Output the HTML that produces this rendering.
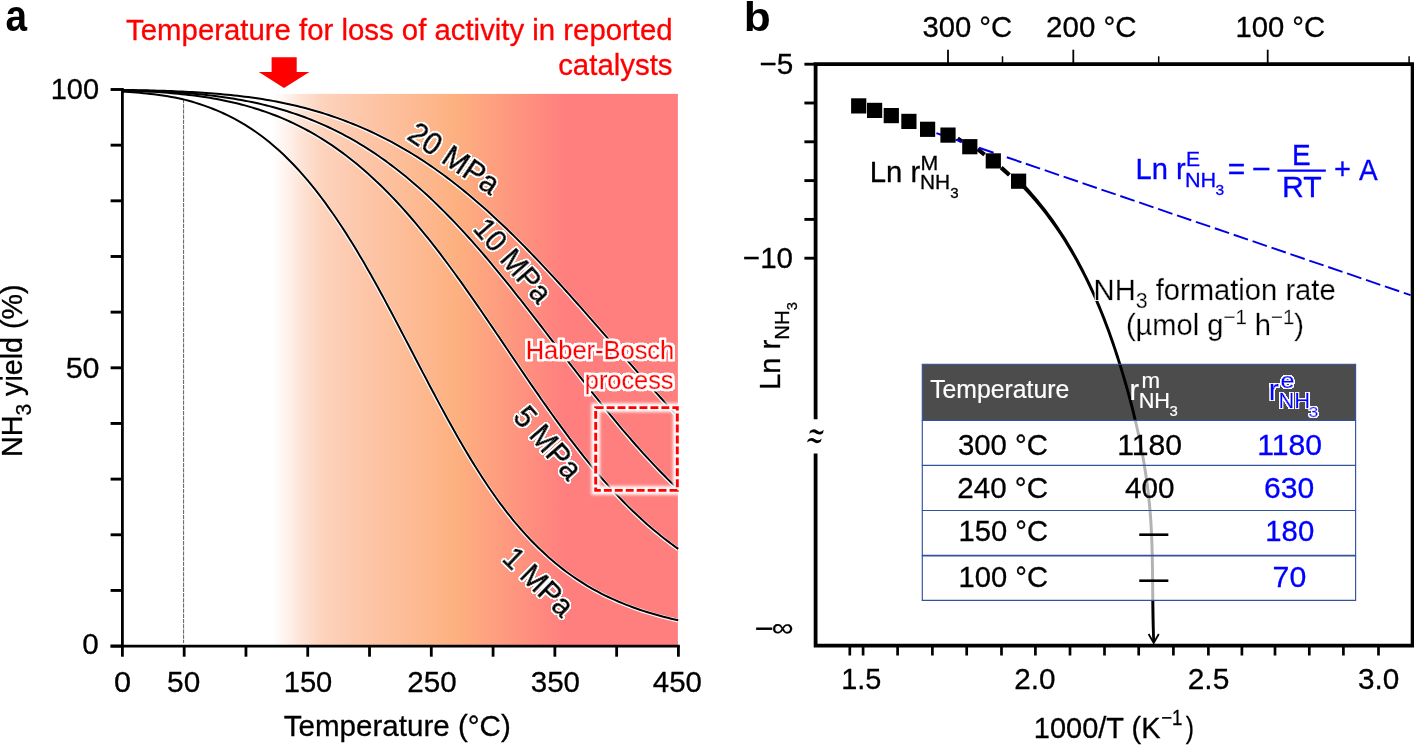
<!DOCTYPE html>
<html lang="en"><head><meta charset="utf-8"><title>NH3 yield and formation rate</title>
<style>
html,body{margin:0;padding:0;background:#fff;}
body{width:1414px;height:745px;overflow:hidden;}
svg{display:block;}
text{font-family:"Liberation Sans",sans-serif;fill:#000;}
</style></head><body>
<svg width="1414" height="745" viewBox="0 0 1414 745">
<defs>
<linearGradient id="g" gradientUnits="userSpaceOnUse" x1="272" x2="678" y1="0" y2="0">
<stop offset="0" stop-color="#fff"/>
<stop offset="0.03" stop-color="#fff5f0"/>
<stop offset="0.07" stop-color="#fee4d7"/>
<stop offset="0.12" stop-color="#fdd4bd"/>
<stop offset="0.20" stop-color="#fdc9ae"/>
<stop offset="0.455" stop-color="#fdb080"/>
<stop offset="0.725" stop-color="#ff7e7e"/>
<stop offset="1" stop-color="#ff7e7e"/>
</linearGradient>
<filter id="glow" x="-20%" y="-20%" width="140%" height="140%"><feGaussianBlur stdDeviation="1.8"/></filter>
<filter id="h40" x="-40%" y="-40%" width="180%" height="180%"><feMorphology in="SourceAlpha" operator="dilate" radius="1" result="d"/><feGaussianBlur in="d" stdDeviation="0.5" result="b"/><feComponentTransfer in="b" result="a"><feFuncA type="linear" slope="6.0" intercept="-0.3"/></feComponentTransfer><feFlood flood-color="#fff"/><feComposite in2="a" operator="in" result="hl"/><feMerge><feMergeNode in="hl"/><feMergeNode in="SourceGraphic"/></feMerge></filter>
<filter id="hb44" x="-40%" y="-40%" width="180%" height="180%"><feMorphology in="SourceAlpha" operator="dilate" radius="2" result="d"/><feGaussianBlur in="d" stdDeviation="0.6" result="b"/><feComponentTransfer in="b" result="a"><feFuncA type="linear" slope="3.0" intercept="-0.2"/></feComponentTransfer><feFlood flood-color="#fff"/><feComposite in2="a" operator="in" result="hl"/><feMerge><feMergeNode in="hl"/><feMergeNode in="SourceGraphic"/></feMerge></filter>
<filter id="h26" x="-40%" y="-40%" width="180%" height="180%"><feMorphology in="SourceAlpha" operator="dilate" radius="1" result="d"/><feGaussianBlur in="d" stdDeviation="0.4" result="b"/><feComponentTransfer in="b" result="a"><feFuncA type="linear" slope="4.0" intercept="-1.0"/></feComponentTransfer><feFlood flood-color="#fff"/><feComposite in2="a" operator="in" result="hl"/><feMerge><feMergeNode in="hl"/><feMergeNode in="SourceGraphic"/></feMerge></filter>
<filter id="h30" x="-40%" y="-40%" width="180%" height="180%"><feMorphology in="SourceAlpha" operator="dilate" radius="1" result="d"/><feGaussianBlur in="d" stdDeviation="0.4" result="b"/><feComponentTransfer in="b" result="a"><feFuncA type="linear" slope="4.0" intercept="-1.0"/></feComponentTransfer><feFlood flood-color="#fff"/><feComposite in2="a" operator="in" result="hl"/><feMerge><feMergeNode in="hl"/><feMergeNode in="SourceGraphic"/></feMerge></filter>

</defs>
<rect width="1414" height="745" fill="#fff"/>

<g id="panel-a">
<rect x="272" y="93.9" width="405.9" height="552" fill="url(#g)"/>
<line x1="183.6" y1="99" x2="183.6" y2="643" stroke="#333" stroke-width="0.8" stroke-dasharray="4.2 1"/>
<path d="M272.00,100.75 L274.55,101.21 L277.11,101.68 L279.66,102.17 L282.22,102.69 L284.77,103.23 L287.33,103.78 L289.88,104.35 L292.44,104.94 L294.99,105.54 L297.55,106.16 L300.10,106.79 L302.66,107.44 L305.21,108.11 L307.77,108.79 L310.32,109.49 L312.88,110.21 L315.43,110.94 L317.98,111.70 L320.54,112.47 L323.09,113.26 L325.65,114.07 L328.20,114.89 L330.76,115.74 L333.31,116.60 L335.87,117.49 L338.42,118.39 L340.98,119.31 L343.53,120.26 L346.09,121.22 L348.64,122.20 L351.20,123.21 L353.75,124.24 L356.31,125.28 L358.86,126.35 L361.42,127.44 L363.97,128.55 L366.52,129.68 L369.08,130.84 L371.63,132.01 L374.19,133.21 L376.74,134.44 L379.30,135.68 L381.85,136.95 L384.41,138.24 L386.96,139.55 L389.52,140.89 L392.07,142.25 L394.63,143.63 L397.18,145.04 L399.74,146.47 L402.29,147.92 L404.85,149.40 L407.40,150.90 L409.95,152.43 L412.51,153.98 L415.06,155.56 L417.62,157.16 L420.17,158.78 L422.73,160.45 L425.28,162.15 L427.84,163.87 L430.39,165.61 L432.95,167.38 L435.50,169.17 L438.06,170.99 L440.61,172.83 L443.17,174.70 L445.72,176.59 L448.28,178.51 L450.83,180.45 L453.38,182.41 L455.94,184.40 L458.49,186.42 L461.05,188.46 L463.60,190.52 L466.16,192.61 L468.71,194.72 L471.27,196.86 L473.82,199.02 L476.38,201.21 L478.93,203.41 L481.49,205.65 L484.04,207.90 L486.60,210.18 L489.15,212.48 L491.71,214.80 L494.26,217.15 L496.82,219.52 L499.37,221.91 L501.92,224.32 L504.48,226.75 L507.03,229.21 L509.59,231.68 L512.14,234.18 L514.70,236.69 L517.25,239.23 L519.81,241.78 L522.36,244.36 L524.92,246.95 L527.47,249.56 L530.03,252.19 L532.58,254.84 L535.14,257.50 L537.69,260.18 L540.25,262.88 L542.80,265.59 L545.35,268.32 L547.91,271.06 L550.46,273.82 L553.02,276.59 L555.57,279.37 L558.13,282.17 L560.68,284.98 L563.24,287.80 L565.79,290.63 L568.35,293.48 L570.90,296.33 L573.46,299.19 L576.01,302.06 L578.57,304.94 L581.12,307.83 L583.68,310.73 L586.23,313.63 L588.78,316.53 L591.34,319.45 L593.89,322.36 L596.45,325.28 L599.00,328.21 L601.56,331.12 L604.11,334.03 L606.67,336.95 L609.22,339.86 L611.78,342.77 L614.33,345.68 L616.89,348.60 L619.44,351.50 L622.00,354.41 L624.55,357.32 L627.11,360.22 L629.66,363.11 L632.22,366.00 L634.77,368.89 L637.32,371.77 L639.88,374.64 L642.43,377.51 L644.99,380.37 L647.54,383.22 L650.10,386.06 L652.65,388.89 L655.21,391.71 L657.76,394.52 L660.32,397.32 L662.87,400.10 L665.43,402.88 L667.98,405.64 L670.54,408.39 L673.09,411.12 L675.65,413.84 L678.20,416.55" fill="none" stroke="#fff" stroke-width="3.7" transform="translate(-0.25 0.3)"/>
<path d="M272.00,106.84 L274.55,107.53 L277.11,108.24 L279.66,108.96 L282.22,109.71 L284.77,110.48 L287.33,111.27 L289.88,112.08 L292.44,112.91 L294.99,113.77 L297.55,114.65 L300.10,115.55 L302.66,116.47 L305.21,117.42 L307.77,118.39 L310.32,119.38 L312.88,120.40 L315.43,121.45 L317.98,122.52 L320.54,123.62 L323.09,124.74 L325.65,125.88 L328.20,127.06 L330.76,128.26 L333.31,129.49 L335.87,130.74 L338.42,132.02 L340.98,133.33 L343.53,134.67 L346.09,136.04 L348.64,137.43 L351.20,138.85 L353.75,140.31 L356.31,141.79 L358.86,143.30 L361.42,144.84 L363.97,146.41 L366.52,148.01 L369.08,149.64 L371.63,151.30 L374.19,153.00 L376.74,154.72 L379.30,156.47 L381.85,158.26 L384.41,160.07 L386.96,161.92 L389.52,163.80 L392.07,165.71 L394.63,167.65 L397.18,169.63 L399.74,171.63 L402.29,173.67 L404.85,175.74 L407.40,177.84 L409.95,179.97 L412.51,182.14 L415.06,184.33 L417.62,186.56 L420.17,188.82 L422.73,191.11 L425.28,193.44 L427.84,195.79 L430.39,198.18 L432.95,200.59 L435.50,203.04 L438.06,205.52 L440.61,208.03 L443.17,210.57 L445.72,213.14 L448.28,215.73 L450.83,218.36 L453.38,221.02 L455.94,223.71 L458.49,226.42 L461.05,229.16 L463.60,231.93 L466.16,234.73 L468.71,237.56 L471.27,240.41 L473.82,243.28 L476.38,246.19 L478.93,249.11 L481.49,252.07 L484.04,255.04 L486.60,258.04 L489.15,261.06 L491.71,264.10 L494.26,267.17 L496.82,270.25 L499.37,273.36 L501.92,276.48 L504.48,279.62 L507.03,282.78 L509.59,285.96 L512.14,289.15 L514.70,292.36 L517.25,295.58 L519.81,298.82 L522.36,302.06 L524.92,305.32 L527.47,308.60 L530.03,311.88 L532.58,315.17 L535.14,318.47 L537.69,321.78 L540.25,325.09 L542.80,328.41 L545.35,331.73 L547.91,335.06 L550.46,338.39 L553.02,341.72 L555.57,345.05 L558.13,348.39 L560.68,351.72 L563.24,355.05 L565.79,358.37 L568.35,361.69 L570.90,365.01 L573.46,368.32 L576.01,371.63 L578.57,374.92 L581.12,378.21 L583.68,381.49 L586.23,384.76 L588.78,388.02 L591.34,391.26 L593.89,394.49 L596.45,397.71 L599.00,400.91 L601.56,404.10 L604.11,407.27 L606.67,410.42 L609.22,413.56 L611.78,416.68 L614.33,419.78 L616.89,422.85 L619.44,425.91 L622.00,428.95 L624.55,431.96 L627.11,434.95 L629.66,437.92 L632.22,440.87 L634.77,443.79 L637.32,446.68 L639.88,449.56 L642.43,452.40 L644.99,455.22 L647.54,458.01 L650.10,460.78 L652.65,463.52 L655.21,466.23 L657.76,468.91 L660.32,471.57 L662.87,474.19 L665.43,476.79 L667.98,479.36 L670.54,481.90 L673.09,484.41 L675.65,486.90 L678.20,489.35" fill="none" stroke="#fff" stroke-width="3.7" transform="translate(-0.25 0.3)"/>
<path d="M272.00,114.17 L274.55,115.14 L277.11,116.15 L279.66,117.18 L282.22,118.24 L284.77,119.33 L287.33,120.45 L289.88,121.60 L292.44,122.78 L294.99,124.00 L297.55,125.24 L300.10,126.52 L302.66,127.83 L305.21,129.17 L307.77,130.55 L310.32,131.96 L312.88,133.41 L315.43,134.88 L317.98,136.40 L320.54,137.95 L323.09,139.54 L325.65,141.16 L328.20,142.82 L330.76,144.51 L333.31,146.25 L335.87,148.02 L338.42,149.82 L340.98,151.67 L343.53,153.56 L346.09,155.48 L348.64,157.44 L351.20,159.44 L353.75,161.49 L356.31,163.57 L358.86,165.69 L361.42,167.85 L363.97,170.05 L366.52,172.29 L369.08,174.57 L371.63,176.89 L374.19,179.25 L376.74,181.65 L379.30,184.10 L381.85,186.58 L384.41,189.10 L386.96,191.67 L389.52,194.27 L392.07,196.91 L394.63,199.60 L397.18,202.32 L399.74,205.08 L402.29,207.89 L404.85,210.73 L407.40,213.61 L409.95,216.52 L412.51,219.48 L415.06,222.47 L417.62,225.51 L420.17,228.57 L422.73,231.68 L425.28,234.82 L427.84,237.99 L430.39,241.20 L432.95,244.44 L435.50,247.72 L438.06,251.03 L440.61,254.36 L443.17,257.73 L445.72,261.13 L448.28,264.56 L450.83,268.02 L453.38,271.51 L455.94,275.02 L458.49,278.55 L461.05,282.11 L463.60,285.69 L466.16,289.30 L468.71,292.92 L471.27,296.57 L473.82,300.23 L476.38,303.91 L478.93,307.61 L481.49,311.32 L484.04,315.05 L486.60,318.78 L489.15,322.53 L491.71,326.29 L494.26,330.06 L496.82,333.83 L499.37,337.61 L501.92,341.39 L504.48,345.17 L507.03,348.96 L509.59,352.74 L512.14,356.52 L514.70,360.30 L517.25,364.08 L519.81,367.85 L522.36,371.61 L524.92,375.36 L527.47,379.11 L530.03,382.84 L532.58,386.56 L535.14,390.27 L537.69,393.96 L540.25,397.63 L542.80,401.28 L545.35,404.92 L547.91,408.54 L550.46,412.13 L553.02,415.70 L555.57,419.25 L558.13,422.78 L560.68,426.28 L563.24,429.75 L565.79,433.19 L568.35,436.60 L570.90,439.99 L573.46,443.35 L576.01,446.67 L578.57,449.96 L581.12,453.22 L583.68,456.45 L586.23,459.64 L588.78,462.79 L591.34,465.92 L593.89,469.00 L596.45,472.05 L599.00,475.07 L601.56,478.03 L604.11,480.94 L606.67,483.82 L609.22,486.66 L611.78,489.46 L614.33,492.22 L616.89,494.94 L619.44,497.63 L622.00,500.27 L624.55,502.88 L627.11,505.45 L629.66,507.98 L632.22,510.47 L634.77,512.92 L637.32,515.34 L639.88,517.71 L642.43,520.05 L644.99,522.35 L647.54,524.61 L650.10,526.83 L652.65,529.01 L655.21,531.16 L657.76,533.27 L660.32,535.35 L662.87,537.38 L665.43,539.39 L667.98,541.35 L670.54,543.28 L673.09,545.18 L675.65,547.04 L678.20,548.86" fill="none" stroke="#fff" stroke-width="3.7" transform="translate(-0.25 0.3)"/>
<path d="M272.00,144.35 L274.55,146.52 L277.11,148.76 L279.66,151.06 L282.22,153.42 L284.77,155.84 L287.33,158.32 L289.88,160.87 L292.44,163.48 L294.99,166.15 L297.55,168.90 L300.10,171.70 L302.66,174.57 L305.21,177.51 L307.77,180.51 L310.32,183.58 L312.88,186.72 L315.43,189.93 L317.98,193.20 L320.54,196.54 L323.09,199.94 L325.65,203.41 L328.20,206.95 L330.76,210.55 L333.31,214.19 L335.87,217.90 L338.42,221.67 L340.98,225.50 L343.53,229.40 L346.09,233.36 L348.64,237.38 L351.20,241.47 L353.75,245.61 L356.31,249.81 L358.86,254.06 L361.42,258.37 L363.97,262.74 L366.52,267.15 L369.08,271.62 L371.63,276.13 L374.19,280.69 L376.74,285.29 L379.30,289.94 L381.85,294.62 L384.41,299.34 L386.96,304.09 L389.52,308.88 L392.07,313.69 L394.63,318.53 L397.18,323.40 L399.74,328.28 L402.29,333.15 L404.85,338.03 L407.40,342.92 L409.95,347.81 L412.51,352.72 L415.06,357.62 L417.62,362.53 L420.17,367.43 L422.73,372.32 L425.28,377.20 L427.84,382.07 L430.39,386.92 L432.95,391.75 L435.50,396.56 L438.06,401.35 L440.61,406.10 L443.17,410.83 L445.72,415.52 L448.28,420.17 L450.83,424.78 L453.38,429.36 L455.94,433.88 L458.49,438.37 L461.05,442.80 L463.60,447.18 L466.16,451.51 L468.71,455.79 L471.27,460.00 L473.82,464.16 L476.38,468.26 L478.93,472.29 L481.49,476.27 L484.04,480.18 L486.60,484.03 L489.15,487.81 L491.71,491.53 L494.26,495.18 L496.82,498.77 L499.37,502.28 L501.92,505.74 L504.48,509.12 L507.03,512.44 L509.59,515.68 L512.14,518.87 L514.70,521.98 L517.25,525.03 L519.81,528.01 L522.36,530.92 L524.92,533.77 L527.47,536.56 L530.03,539.28 L532.58,541.93 L535.14,544.53 L537.69,547.06 L540.25,549.53 L542.80,551.93 L545.35,554.29 L547.91,556.61 L550.46,558.88 L553.02,561.09 L555.57,563.25 L558.13,565.35 L560.68,567.39 L563.24,569.39 L565.79,571.33 L568.35,573.22 L570.90,575.06 L573.46,576.86 L576.01,578.60 L578.57,580.30 L581.12,581.96 L583.68,583.57 L586.23,585.13 L588.78,586.66 L591.34,588.14 L593.89,589.58 L596.45,590.98 L599.00,592.35 L601.56,593.68 L604.11,594.97 L606.67,596.22 L609.22,597.45 L611.78,598.63 L614.33,599.79 L616.89,600.91 L619.44,602.00 L622.00,603.07 L624.55,604.10 L627.11,605.10 L629.66,606.08 L632.22,607.03 L634.77,607.95 L637.32,608.85 L639.88,609.72 L642.43,610.57 L644.99,611.40 L647.54,612.20 L650.10,612.98 L652.65,613.74 L655.21,614.48 L657.76,615.20 L660.32,615.90 L662.87,616.57 L665.43,617.23 L667.98,617.88 L670.54,618.50 L673.09,619.11 L675.65,619.70 L678.20,620.28" fill="none" stroke="#fff" stroke-width="3.7" transform="translate(-0.25 0.3)"/>
<path d="M122.40,89.97 L125.90,90.02 L129.39,90.06 L132.89,90.11 L136.38,90.17 L139.88,90.23 L143.37,90.29 L146.87,90.37 L150.36,90.45 L153.86,90.54 L157.36,90.63 L160.85,90.74 L164.35,90.85 L167.84,90.97 L171.34,91.10 L174.83,91.24 L178.33,91.39 L181.83,91.55 L185.32,91.73 L188.82,91.91 L192.31,92.11 L195.81,92.32 L199.30,92.54 L202.80,92.76 L206.29,92.99 L209.79,93.24 L213.29,93.50 L216.78,93.78 L220.28,94.08 L223.77,94.39 L227.27,94.72 L230.76,95.07 L234.26,95.43 L237.75,95.82 L241.25,96.23 L244.75,96.65 L248.24,97.10 L251.74,97.57 L255.23,98.06 L258.73,98.58 L262.22,99.11 L265.72,99.68 L269.22,100.26 L272.71,100.87 L276.21,101.51 L279.70,102.18 L283.20,102.90 L286.69,103.65 L290.19,104.42 L293.68,105.23 L297.18,106.07 L300.68,106.94 L304.17,107.83 L307.67,108.76 L311.16,109.73 L314.66,110.72 L318.15,111.75 L321.65,112.81 L325.14,113.90 L328.64,115.03 L332.14,116.20 L335.63,117.40 L339.13,118.64 L342.62,119.92 L346.12,121.23 L349.61,122.58 L353.11,123.98 L356.61,125.41 L360.10,126.88 L363.60,128.39 L367.09,129.94 L370.59,131.53 L374.08,133.16 L377.58,134.84 L381.07,136.56 L384.57,138.32 L388.07,140.12 L391.56,141.97 L395.06,143.87 L398.55,145.80 L402.05,147.78 L405.54,149.81 L409.04,151.88 L412.53,154.00 L416.03,156.16 L419.53,158.37 L423.02,160.65 L426.52,162.97 L430.01,165.35 L433.51,167.77 L437.00,170.24 L440.50,172.75 L443.99,175.31 L447.49,177.91 L450.99,180.57 L454.48,183.27 L457.98,186.01 L461.47,188.80 L464.97,191.64 L468.46,194.52 L471.96,197.44 L475.46,200.41 L478.95,203.43 L482.45,206.49 L485.94,209.59 L489.44,212.74 L492.93,215.93 L496.43,219.16 L499.92,222.43 L503.42,225.74 L506.92,229.09 L510.41,232.48 L513.91,235.91 L517.40,239.38 L520.90,242.88 L524.39,246.42 L527.89,249.99 L531.38,253.60 L534.88,257.23 L538.38,260.90 L541.87,264.60 L545.37,268.33 L548.86,272.09 L552.36,275.87 L555.85,279.68 L559.35,283.51 L562.85,287.37 L566.34,291.24 L569.84,295.14 L573.33,299.05 L576.83,302.98 L580.32,306.93 L583.82,310.89 L587.31,314.86 L590.81,318.84 L594.31,322.83 L597.80,326.83 L601.30,330.83 L604.79,334.81 L608.29,338.79 L611.78,342.78 L615.28,346.76 L618.77,350.75 L622.27,354.72 L625.77,358.70 L629.26,362.66 L632.76,366.62 L636.25,370.56 L639.75,374.50 L643.24,378.42 L646.74,382.32 L650.24,386.21 L653.73,390.08 L657.23,393.93 L660.72,397.76 L664.22,401.57 L667.71,405.35 L671.21,409.11 L674.70,412.84 L678.20,416.55" fill="none" stroke="#000" stroke-width="2"/>
<path d="M122.40,90.18 L125.90,90.26 L129.39,90.34 L132.89,90.43 L136.38,90.53 L139.88,90.63 L143.37,90.75 L146.87,90.87 L150.36,91.01 L153.86,91.15 L157.36,91.31 L160.85,91.48 L164.35,91.66 L167.84,91.85 L171.34,92.05 L174.83,92.27 L178.33,92.51 L181.83,92.75 L185.32,93.02 L188.82,93.30 L192.31,93.60 L195.81,93.92 L199.30,94.25 L202.80,94.61 L206.29,94.98 L209.79,95.38 L213.29,95.80 L216.78,96.24 L220.28,96.70 L223.77,97.19 L227.27,97.70 L230.76,98.24 L234.26,98.81 L237.75,99.40 L241.25,100.02 L244.75,100.68 L248.24,101.36 L251.74,102.07 L255.23,102.81 L258.73,103.59 L262.22,104.40 L265.72,105.24 L269.22,106.12 L272.71,107.03 L276.21,107.99 L279.70,108.97 L283.20,110.00 L286.69,111.07 L290.19,112.18 L293.68,113.33 L297.18,114.52 L300.68,115.75 L304.17,117.03 L307.67,118.35 L311.16,119.72 L314.66,121.13 L318.15,122.59 L321.65,124.10 L325.14,125.66 L328.64,127.26 L332.14,128.92 L335.63,130.62 L339.13,132.38 L342.62,134.19 L346.12,136.05 L349.61,137.97 L353.11,139.94 L356.61,141.96 L360.10,144.04 L363.60,146.18 L367.09,148.37 L370.59,150.62 L374.08,152.93 L377.58,155.29 L381.07,157.71 L384.57,160.19 L388.07,162.73 L391.56,165.33 L395.06,167.98 L398.55,170.70 L402.05,173.47 L405.54,176.31 L409.04,179.20 L412.53,182.16 L416.03,185.17 L419.53,188.25 L423.02,191.38 L426.52,194.57 L430.01,197.82 L433.51,201.13 L437.00,204.49 L440.50,207.92 L443.99,211.40 L447.49,214.93 L450.99,218.52 L454.48,222.17 L457.98,225.87 L461.47,229.62 L464.97,233.43 L468.46,237.28 L471.96,241.18 L475.46,245.14 L478.95,249.14 L482.45,253.18 L485.94,257.27 L489.44,261.40 L492.93,265.57 L496.43,269.78 L499.92,274.03 L503.42,278.32 L506.92,282.63 L510.41,286.98 L513.91,291.36 L517.40,295.77 L520.90,300.20 L524.39,304.66 L527.89,309.13 L531.38,313.63 L534.88,318.14 L538.38,322.66 L541.87,327.20 L545.37,331.75 L548.86,336.30 L552.36,340.86 L555.85,345.42 L559.35,349.98 L562.85,354.54 L566.34,359.09 L569.84,363.63 L573.33,368.16 L576.83,372.68 L580.32,377.19 L583.82,381.68 L587.31,386.14 L590.81,390.59 L594.31,395.01 L597.80,399.41 L601.30,403.77 L604.79,408.11 L608.29,412.42 L611.78,416.69 L615.28,420.92 L618.77,425.12 L622.27,429.27 L625.77,433.39 L629.26,437.46 L632.76,441.49 L636.25,445.47 L639.75,449.41 L643.24,453.30 L646.74,457.14 L650.24,460.93 L653.73,464.67 L657.23,468.35 L660.72,471.99 L664.22,475.57 L667.71,479.09 L671.21,482.57 L674.70,485.99 L678.20,489.35" fill="none" stroke="#000" stroke-width="2"/>
<path d="M122.40,90.47 L125.90,90.57 L129.39,90.69 L132.89,90.82 L136.38,90.96 L139.88,91.11 L143.37,91.28 L146.87,91.46 L150.36,91.65 L153.86,91.85 L157.36,92.07 L160.85,92.31 L164.35,92.57 L167.84,92.84 L171.34,93.13 L174.83,93.44 L178.33,93.78 L181.83,94.13 L185.32,94.51 L188.82,94.91 L192.31,95.33 L195.81,95.78 L199.30,96.26 L202.80,96.77 L206.29,97.30 L209.79,97.86 L213.29,98.46 L216.78,99.09 L220.28,99.75 L223.77,100.44 L227.27,101.17 L230.76,101.94 L234.26,102.74 L237.75,103.59 L241.25,104.47 L244.75,105.40 L248.24,106.37 L251.74,107.38 L255.23,108.44 L258.73,109.54 L262.22,110.69 L265.72,111.89 L269.22,113.14 L272.71,114.44 L276.21,115.79 L279.70,117.19 L283.20,118.65 L286.69,120.17 L290.19,121.74 L293.68,123.37 L297.18,125.06 L300.68,126.81 L304.17,128.62 L307.67,130.50 L311.16,132.43 L314.66,134.43 L318.15,136.50 L321.65,138.63 L325.14,140.83 L328.64,143.10 L332.14,145.44 L335.63,147.85 L339.13,150.33 L342.62,152.88 L346.12,155.50 L349.61,158.20 L353.11,160.97 L356.61,163.81 L360.10,166.73 L363.60,169.72 L367.09,172.79 L370.59,175.93 L374.08,179.15 L377.58,182.45 L381.07,185.82 L384.57,189.26 L388.07,192.78 L391.56,196.38 L395.06,200.05 L398.55,203.80 L402.05,207.62 L405.54,211.51 L409.04,215.47 L412.53,219.51 L416.03,223.62 L419.53,227.79 L423.02,232.04 L426.52,236.35 L430.01,240.72 L433.51,245.16 L437.00,249.66 L440.50,254.22 L443.99,258.83 L447.49,263.51 L450.99,268.23 L454.48,273.01 L457.98,277.83 L461.47,282.70 L464.97,287.62 L468.46,292.57 L471.96,297.56 L475.46,302.58 L478.95,307.64 L482.45,312.72 L485.94,317.83 L489.44,322.95 L492.93,328.10 L496.43,333.26 L499.92,338.43 L503.42,343.60 L506.92,348.78 L510.41,353.96 L513.91,359.13 L517.40,364.30 L520.90,369.46 L524.39,374.60 L527.89,379.72 L531.38,384.82 L534.88,389.90 L538.38,394.94 L541.87,399.96 L545.37,404.94 L548.86,409.88 L552.36,414.78 L555.85,419.64 L559.35,424.45 L562.85,429.21 L566.34,433.93 L569.84,438.58 L573.33,443.18 L576.83,447.72 L580.32,452.21 L583.82,456.63 L587.31,460.98 L590.81,465.27 L594.31,469.50 L597.80,473.65 L601.30,477.73 L604.79,481.71 L608.29,485.62 L611.78,489.46 L615.28,493.23 L618.77,496.93 L622.27,500.56 L625.77,504.11 L629.26,507.59 L632.76,510.99 L636.25,514.33 L639.75,517.59 L643.24,520.78 L646.74,523.90 L650.24,526.95 L653.73,529.93 L657.23,532.83 L660.72,535.67 L664.22,538.44 L667.71,541.15 L671.21,543.79 L674.70,546.36 L678.20,548.86" fill="none" stroke="#000" stroke-width="2"/>
<path d="M122.40,91.64 L125.90,91.84 L129.39,92.05 L132.89,92.29 L136.38,92.56 L139.88,92.85 L143.37,93.16 L146.87,93.51 L150.36,93.89 L153.86,94.30 L157.36,94.74 L160.85,95.22 L164.35,95.74 L167.84,96.30 L171.34,96.90 L174.83,97.55 L178.33,98.24 L181.83,99.02 L185.32,99.90 L188.82,100.82 L192.31,101.80 L195.81,102.84 L199.30,103.94 L202.80,105.10 L206.29,106.32 L209.79,107.61 L213.29,108.96 L216.78,110.39 L220.28,111.90 L223.77,113.47 L227.27,115.13 L230.76,116.87 L234.26,118.69 L237.75,120.60 L241.25,122.59 L244.75,124.68 L248.24,126.85 L251.74,129.13 L255.23,131.50 L258.73,133.97 L262.22,136.55 L265.72,139.24 L269.22,142.04 L272.71,144.95 L276.21,147.96 L279.70,151.09 L283.20,154.34 L286.69,157.70 L290.19,161.18 L293.68,164.78 L297.18,168.50 L300.68,172.34 L304.17,176.31 L307.67,180.40 L311.16,184.61 L314.66,188.95 L318.15,193.42 L321.65,198.01 L325.14,202.72 L328.64,207.56 L332.14,212.50 L335.63,217.55 L339.13,222.72 L342.62,228.01 L346.12,233.41 L349.61,238.93 L353.11,244.56 L356.61,250.30 L360.10,256.15 L363.60,262.09 L367.09,268.14 L370.59,274.28 L374.08,280.50 L377.58,286.80 L381.07,293.19 L384.57,299.64 L388.07,306.16 L391.56,312.73 L395.06,319.35 L398.55,326.02 L402.05,332.69 L405.54,339.36 L409.04,346.06 L412.53,352.77 L416.03,359.48 L419.53,366.18 L423.02,372.88 L426.52,379.55 L430.01,386.20 L433.51,392.81 L437.00,399.38 L440.50,405.89 L443.99,412.35 L447.49,418.74 L450.99,425.06 L454.48,431.31 L457.98,437.46 L461.47,443.53 L464.97,449.50 L468.46,455.37 L471.96,461.13 L475.46,466.78 L478.95,472.32 L482.45,477.74 L485.94,483.05 L489.44,488.23 L492.93,493.29 L496.43,498.23 L499.92,503.04 L503.42,507.72 L506.92,512.28 L510.41,516.72 L513.91,521.02 L517.40,525.20 L520.90,529.26 L524.39,533.19 L527.89,537.01 L531.38,540.70 L534.88,544.27 L538.38,547.73 L541.87,551.07 L545.37,554.30 L548.86,557.47 L552.36,560.53 L555.85,563.48 L559.35,566.33 L562.85,569.09 L566.34,571.74 L569.84,574.30 L573.33,576.77 L576.83,579.15 L580.32,581.44 L583.82,583.65 L587.31,585.78 L590.81,587.83 L594.31,589.81 L597.80,591.71 L601.30,593.54 L604.79,595.31 L608.29,597.00 L611.78,598.64 L615.28,600.21 L618.77,601.72 L622.27,603.18 L625.77,604.58 L629.26,605.93 L632.76,607.23 L636.25,608.48 L639.75,609.68 L643.24,610.84 L646.74,611.95 L650.24,613.02 L653.73,614.05 L657.23,615.05 L660.72,616.00 L664.22,616.92 L667.71,617.81 L671.21,618.66 L674.70,619.49 L678.20,620.28" fill="none" stroke="#000" stroke-width="2"/>
<path d="M122.4,88 V647.5" stroke="#000" stroke-width="2.8" fill="none"/>
<path d="M110.6,646.1 H679.8" stroke="#000" stroke-width="2.9" fill="none"/>
<path d="M110.6,646.10 H122.4" stroke="#000" stroke-width="2.9"/>
<path d="M110.6,590.44 H122.4" stroke="#000" stroke-width="2.9"/>
<path d="M110.6,534.78 H122.4" stroke="#000" stroke-width="2.9"/>
<path d="M110.6,479.12 H122.4" stroke="#000" stroke-width="2.9"/>
<path d="M110.6,423.46 H122.4" stroke="#000" stroke-width="2.9"/>
<path d="M110.6,367.80 H122.4" stroke="#000" stroke-width="2.9"/>
<path d="M110.6,312.14 H122.4" stroke="#000" stroke-width="2.9"/>
<path d="M110.6,256.48 H122.4" stroke="#000" stroke-width="2.9"/>
<path d="M110.6,200.82 H122.4" stroke="#000" stroke-width="2.9"/>
<path d="M110.6,145.16 H122.4" stroke="#000" stroke-width="2.9"/>
<path d="M110.6,89.50 H122.4" stroke="#000" stroke-width="2.9"/>
<path d="M122.40,646.1 V656.7" stroke="#000" stroke-width="2.8"/>
<path d="M184.18,646.1 V656.7" stroke="#000" stroke-width="2.8"/>
<path d="M245.96,646.1 V656.7" stroke="#000" stroke-width="2.8"/>
<path d="M307.74,646.1 V656.7" stroke="#000" stroke-width="2.8"/>
<path d="M369.52,646.1 V656.7" stroke="#000" stroke-width="2.8"/>
<path d="M431.30,646.1 V656.7" stroke="#000" stroke-width="2.8"/>
<path d="M493.08,646.1 V656.7" stroke="#000" stroke-width="2.8"/>
<path d="M554.86,646.1 V656.7" stroke="#000" stroke-width="2.8"/>
<path d="M616.64,646.1 V656.7" stroke="#000" stroke-width="2.8"/>
<path d="M678.42,646.1 V656.7" stroke="#000" stroke-width="2.8"/>
<text transform="translate(50.72 99.3) scale(0.9668 1)" style="font-size:30px;stroke:#000;stroke-width:0.3px;">100</text>
<text transform="translate(65.69 377.6) scale(1.0144 1)" style="font-size:30px;stroke:#000;stroke-width:0.3px;">50</text>
<text transform="translate(82.31 654.3) scale(0.9898 1)" style="font-size:30px;stroke:#000;stroke-width:0.3px;">0</text>
<text transform="translate(114.08 691.6) scale(1.0237 1)" style="font-size:30px;stroke:#000;stroke-width:0.3px;">0</text>
<text transform="translate(167.11 691.6) scale(0.9920 1)" style="font-size:30px;stroke:#000;stroke-width:0.3px;">50</text>
<text transform="translate(283.71 691.6) scale(0.9711 1)" style="font-size:30px;stroke:#000;stroke-width:0.3px;">150</text>
<text transform="translate(407.37 691.6) scale(0.9864 1)" style="font-size:30px;stroke:#000;stroke-width:0.3px;">250</text>
<text transform="translate(530.72 691.6) scale(0.9833 1)" style="font-size:30px;stroke:#000;stroke-width:0.3px;">350</text>
<text transform="translate(652.81 691.6) scale(0.9794 1)" style="font-size:30px;stroke:#000;stroke-width:0.3px;">450</text>
<text transform="translate(283.71 735.6) scale(0.9862 1)" style="font-size:30px;stroke:#000;stroke-width:0.3px;">Temperature (°C)</text>
<text transform="translate(22.4 457.05) rotate(-90) scale(0.9567 1)" style="font-size:30px;stroke:#000;stroke-width:0.3px;">NH<tspan dy="8.8" style="font-size:22px">3</tspan><tspan dy="-8.8"> yield (%)</tspan></text>
<text transform="translate(5.5 30.9) scale(0.8809 1)" style="font-size:44px;font-weight:bold;">a</text>
<text transform="translate(126.11 40.2) scale(0.9789 1)" style="font-size:30px;fill:#f00;stroke:#f00;stroke-width:0.3px;">Temperature for loss of activity in reported</text>
<text transform="translate(558.18 75) scale(0.9799 1)" style="font-size:30px;fill:#f00;stroke:#f00;stroke-width:0.3px;">catalysts</text>
<path d="M271.6,57.2 H296.7 V72.1 H309.4 L284,87.9 L258.8,72.1 H271.6 Z" fill="#f00"/>
<g filter="url(#h40)"><text transform="translate(405.66 138.31) rotate(34) scale(0.96 1)" style="font-size:31px;stroke:#000;stroke-width:0.9px;">20 MPa</text></g>
<g filter="url(#h40)"><text transform="translate(472.02 229.2) rotate(49) scale(0.96 1)" style="font-size:30.5px;stroke:#000;stroke-width:0.9px;">10 MPa</text></g>
<g filter="url(#h40)"><text transform="translate(511.91 417.41) rotate(49) scale(0.94 1)" style="font-size:31.5px;stroke:#000;stroke-width:0.9px;">5 MPa</text></g>
<g filter="url(#h40)"><text transform="translate(500.95 559.93) rotate(44) scale(0.96 1)" style="font-size:30.5px;stroke:#000;stroke-width:0.9px;">1 MPa</text></g>
<g filter="url(#hb44)"><text transform="translate(525.7 358.9) scale(0.9990 1)" style="font-size:25.5px;fill:#f00;stroke:#f00;stroke-width:0.35px;">Haber-Bosch</text></g>
<g filter="url(#hb44)"><text transform="translate(584.81 389.4) scale(0.9943 1)" style="font-size:25.5px;fill:#f00;stroke:#f00;stroke-width:0.35px;">process</text></g>
<rect x="595.7" y="407.6" width="81.6" height="82.8" fill="none" stroke="#fff" stroke-width="8.6" filter="url(#glow)"/>
<rect x="595.7" y="407.6" width="81.6" height="82.8" fill="none" stroke="#f00" stroke-width="2.9" stroke-dasharray="7.9 3.05"/>
</g>
<g id="panel-b">
<text transform="translate(743.87 31.1) scale(1.0667 1)" style="font-size:41.5px;font-weight:bold;">b</text>
<path d="M1017.24,182.69 L1020.45,185.96 L1023.58,189.22 L1026.63,192.48 L1029.60,195.74 L1032.50,199.00 L1035.32,202.26 L1038.06,205.54 L1040.73,208.82 L1043.33,212.09 L1045.87,215.37 L1048.35,218.65 L1050.77,221.92 L1053.13,225.20 L1055.43,228.48 L1057.68,231.76 L1059.87,235.05 L1062.01,238.33 L1064.10,241.61 L1066.14,244.90 L1068.14,248.18 L1070.10,251.47 L1072.01,254.76 L1073.89,258.04 L1075.73,261.33 L1077.52,264.63 L1079.28,267.92 L1081.01,271.21 L1082.70,274.51 L1084.36,277.80 L1085.98,281.09 L1087.58,284.39 L1089.14,287.68 L1090.68,290.98 L1092.18,294.27 L1093.66,297.57 L1095.10,300.86 L1096.52,304.16 L1097.90,307.46 L1099.26,310.76 L1100.60,314.06 L1101.91,317.36 L1103.20,320.66 L1104.46,323.96 L1105.70,327.26 L1106.93,330.56 L1108.13,333.86 L1109.30,337.16 L1110.46,340.46 L1111.61,343.76 L1112.73,347.06 L1113.84,350.36 L1114.93,353.66 L1116.00,356.97 L1117.06,360.27 L1118.10,363.57 L1119.14,366.87 L1120.15,370.18 L1121.16,373.48 L1122.15,376.78 L1123.12,380.08 L1124.08,383.39 L1125.03,386.69 L1125.96,389.99 L1126.88,393.29 L1127.78,396.59 L1128.66,399.90 L1129.54,403.20 L1130.39,406.50 L1131.23,409.80 L1132.06,413.10 L1132.87,416.40 L1133.66,419.71 L1134.43,423.01 L1135.19,426.31 L1135.93,429.61 L1136.65,432.91 L1137.36,436.21 L1138.05,439.52 L1138.72,442.82 L1139.38,446.12 L1140.02,449.42 L1140.64,452.72 L1141.24,456.02 L1141.82,459.32 L1142.39,462.62 L1142.94,465.92 L1143.47,469.22 L1143.98,472.52 L1144.47,475.82 L1144.95,479.12 L1145.41,482.42 L1145.84,485.72 L1146.26,489.02 L1146.66,492.32 L1147.04,495.62 L1147.40,498.92 L1147.74,502.22 L1148.06,505.52 L1148.36,508.81 L1148.64,512.11 L1148.89,515.41 L1149.13,518.71 L1149.35,522.01 L1149.56,525.31 L1149.74,528.61 L1149.91,531.91 L1150.07,535.21 L1150.21,538.52 L1150.33,541.82 L1150.45,545.12 L1150.55,548.42 L1150.64,551.73 L1150.73,555.03 L1150.80,558.33 L1150.86,561.64 L1150.92,564.94 L1150.97,568.25 L1151.02,571.55 L1151.06,574.86 L1151.09,578.17 L1151.13,581.47 L1151.16,584.78 L1151.19,588.09 L1151.22,591.39 L1151.25,594.70 L1151.28,598.01 L1151.31,601.32 L1151.35,604.63 L1151.39,607.94 L1151.44,611.25 L1151.49,614.56 L1151.54,617.87 L1151.62,621.18 L1151.70,624.49 L1151.80,627.81 L1151.91,631.12 L1152.03,634.43 L1152.16,637.74 L1152.30,641.05 L1155.09,640.95 L1154.98,637.64 L1154.88,634.34 L1154.80,631.03 L1154.72,627.73 L1154.66,624.43 L1154.60,621.12 L1154.54,617.82 L1154.49,614.51 L1154.44,611.21 L1154.39,607.90 L1154.35,604.60 L1154.31,601.29 L1154.28,597.98 L1154.25,594.68 L1154.22,591.37 L1154.19,588.06 L1154.16,584.75 L1154.13,581.44 L1154.09,578.13 L1154.06,574.82 L1154.02,571.51 L1153.97,568.20 L1153.92,564.89 L1153.86,561.58 L1153.80,558.27 L1153.72,554.96 L1153.64,551.65 L1153.55,548.33 L1153.45,545.02 L1153.33,541.71 L1153.20,538.39 L1153.06,535.08 L1152.91,531.77 L1152.74,528.45 L1152.55,525.13 L1152.35,521.82 L1152.13,518.50 L1151.89,515.19 L1151.63,511.87 L1151.35,508.55 L1151.05,505.24 L1150.73,501.92 L1150.38,498.60 L1150.02,495.28 L1149.64,491.97 L1149.24,488.65 L1148.82,485.34 L1148.38,482.02 L1147.92,478.70 L1147.44,475.39 L1146.94,472.07 L1146.43,468.75 L1145.89,465.44 L1145.33,462.12 L1144.76,458.81 L1144.16,455.49 L1143.55,452.18 L1142.92,448.86 L1142.27,445.55 L1141.61,442.23 L1140.93,438.92 L1140.23,435.60 L1139.51,432.29 L1138.78,428.98 L1138.03,425.66 L1137.26,422.35 L1136.48,419.03 L1135.68,415.72 L1134.87,412.41 L1134.05,409.09 L1133.20,405.78 L1132.34,402.46 L1131.47,399.15 L1130.58,395.84 L1129.67,392.52 L1128.75,389.21 L1127.82,385.89 L1126.87,382.58 L1125.90,379.27 L1124.92,375.95 L1123.93,372.64 L1122.93,369.33 L1121.90,366.01 L1120.87,362.70 L1119.82,359.39 L1118.76,356.07 L1117.68,352.76 L1116.59,349.45 L1115.48,346.13 L1114.35,342.82 L1113.20,339.50 L1112.04,336.19 L1110.85,332.87 L1109.65,329.56 L1108.42,326.24 L1107.17,322.93 L1105.90,319.61 L1104.61,316.29 L1103.29,312.98 L1101.95,309.66 L1100.58,306.34 L1099.19,303.03 L1097.77,299.71 L1096.32,296.39 L1094.86,293.07 L1093.36,289.75 L1091.83,286.43 L1090.27,283.10 L1088.68,279.78 L1087.06,276.46 L1085.40,273.14 L1083.71,269.81 L1081.99,266.49 L1080.24,263.17 L1078.44,259.85 L1076.62,256.52 L1074.76,253.19 L1072.86,249.86 L1070.92,246.53 L1068.93,243.20 L1066.89,239.87 L1064.81,236.54 L1062.68,233.21 L1060.50,229.88 L1058.26,226.54 L1055.97,223.20 L1053.63,219.87 L1051.22,216.53 L1048.75,213.19 L1046.22,209.85 L1043.62,206.51 L1040.95,203.17 L1038.22,199.83 L1035.42,196.48 L1032.56,193.13 L1029.62,189.77 L1026.60,186.41 L1023.50,183.06 L1020.33,179.71Z" fill="#000" stroke="none"/>
<path d="M957.6,138.6 L961.6,141.3 M977.6,149.2 L984.6,154.6 M1001.2,167.6 L1009.4,175" fill="none" stroke="#000" stroke-width="4.2"/>
<path d="M936.4,133.20 L941.0,134.77 M955.5,139.72 L962.5,142.11 M979.0,147.75 L993.6,152.73 M1006.8,157.24 L1021.4,162.23 M1025.8,163.73 L1040.1,168.61 M1044.7,170.19 L1059.0,175.07 M1063.6,176.64 L1077.9,181.52 M1082.5,183.09 L1096.8,187.98 M1101.4,189.55 L1115.7,194.43 M1120.3,196.00 L1134.6,200.89 M1139.2,202.46 L1153.5,207.34 M1158.1,208.91 L1172.4,213.79 M1177.0,215.37 L1191.3,220.25 M1195.9,221.82 L1210.2,226.70 M1214.8,228.27 L1229.1,233.16 M1233.7,234.73 L1248.0,239.61 M1252.6,241.18 L1266.9,246.07 M1271.5,247.64 L1285.8,252.52 M1290.4,254.09 L1304.7,258.98 M1309.3,260.55 L1323.6,265.43 M1328.2,267.00 L1342.5,271.88 M1347.1,273.45 L1361.4,278.34 M1366.0,279.91 L1380.3,284.79 M1384.9,286.36 L1399.2,291.25 M1403.8,292.82 L1410.6,295.14" fill="none" stroke="#0000e8" stroke-width="1.9"/>
<rect x="851.1" y="98.3" width="15.2" height="15.2" fill="#000"/>
<rect x="867.0" y="102.8" width="15.2" height="15.2" fill="#000"/>
<rect x="883.7" y="108.0" width="15.2" height="15.2" fill="#000"/>
<rect x="901.3" y="113.8" width="15.2" height="15.2" fill="#000"/>
<rect x="920.0" y="121.7" width="15.2" height="15.2" fill="#000"/>
<rect x="940.4" y="127.5" width="15.2" height="15.2" fill="#000"/>
<rect x="962.2" y="139.1" width="15.2" height="15.2" fill="#000"/>
<rect x="985.7" y="153.3" width="15.2" height="15.2" fill="#000"/>
<rect x="1011.0" y="173.6" width="15.2" height="15.2" fill="#000"/>
<rect x="922.3" y="364.2" width="433.3" height="56.1" fill="#000" fill-opacity="0.7"/>
<rect x="922.3" y="420.3" width="433.3" height="180.1" fill="#fff" fill-opacity="0.7"/>
<path d="M921.8,364.2 H1356.1" stroke="#34529c" stroke-width="1.15"/>
<path d="M921.8,420.3 H1356.1" stroke="#34529c" stroke-width="1.15"/>
<path d="M921.8,465.3 H1356.1" stroke="#34529c" stroke-width="1.15"/>
<path d="M921.8,510.5 H1356.1" stroke="#34529c" stroke-width="1.15"/>
<path d="M921.8,555.6 H1356.1" stroke="#34529c" stroke-width="1.8"/>
<path d="M921.8,600.4 H1356.1" stroke="#34529c" stroke-width="1.15"/>
<path d="M922.3,364.2 V600.4 M1355.6,364.2 V600.4" stroke="#34529c" stroke-width="1.15" fill="none"/>
<text transform="translate(930.2 397.6) scale(0.9910 1)" style="font-size:25px;fill:#fff;stroke:#fff;stroke-width:0.2px;">Temperature</text>
<text transform="translate(1129.58 399.5) scale(0.9600 1)" style="font-size:30px;fill:#fff;stroke:#fff;stroke-width:0.2px;">r</text>
<text transform="translate(1141.6 387.6) scale(1.0361 1)" style="font-size:21.5px;fill:#fff;stroke:#fff;stroke-width:0.2px;">m</text>
<text transform="translate(1138.63 408.1) scale(1.0090 1)" style="font-size:21.5px;fill:#fff;stroke:#fff;stroke-width:0.2px;">NH</text>
<text transform="translate(1169.5 416.2) scale(0.9931 1)" style="font-size:15px;fill:#fff;stroke:#fff;stroke-width:0.2px;">3</text>
<g filter="url(#h26)"><text transform="translate(1268.63 399.5) scale(1.0125 1)" style="font-size:30px;fill:#00f;stroke:#00f;stroke-width:0.4px;">r</text></g>
<g filter="url(#h26)"><text transform="translate(1280.62 387.6) scale(1.1714 1)" style="font-size:21.5px;fill:#00f;stroke:#00f;stroke-width:0.4px;">e</text></g>
<g filter="url(#h26)"><text transform="translate(1278.48 408.1) scale(1.0143 1)" style="font-size:21.5px;fill:#00f;stroke:#00f;stroke-width:0.4px;">NH</text></g>
<g filter="url(#h26)"><text transform="translate(1308.63 416.7) scale(1.1310 1)" style="font-size:15px;fill:#00f;stroke:#00f;stroke-width:0.4px;">3</text></g>
<text transform="translate(957.92 455.2) scale(0.9789 1)" style="font-size:30px;stroke:#000;stroke-width:0.3px;">300 °C</text>
<text transform="translate(957.27 498.3) scale(0.9861 1)" style="font-size:30px;stroke:#000;stroke-width:0.3px;">240 °C</text>
<text transform="translate(958.51 541.3) scale(0.9724 1)" style="font-size:30px;stroke:#000;stroke-width:0.3px;">150 °C</text>
<text transform="translate(958.51 586.8) scale(0.9724 1)" style="font-size:30px;stroke:#000;stroke-width:0.3px;">100 °C</text>
<text transform="translate(1117.24 455.2) scale(1.0057 1)" style="font-size:30px;stroke:#000;stroke-width:0.3px;">1180</text>
<text transform="translate(1125.11 498.3) scale(0.9897 1)" style="font-size:30px;stroke:#000;stroke-width:0.3px;">400</text>
<text transform="translate(1139.2 544.62) scale(0.9700 1.3143)" style="font-size:30px;">—</text>
<text transform="translate(1139.2 590.52) scale(0.9700 1.3143)" style="font-size:30px;">—</text>
<text transform="translate(1257.24 455.2) scale(1.0057 1)" style="font-size:30px;fill:#00f;stroke:#00f;stroke-width:0.3px;">1180</text>
<text transform="translate(1264.1 498.3) scale(1.0021 1)" style="font-size:30px;fill:#00f;stroke:#00f;stroke-width:0.3px;">630</text>
<text transform="translate(1265.3 541.3) scale(0.9775 1)" style="font-size:30px;fill:#00f;stroke:#00f;stroke-width:0.3px;">180</text>
<text transform="translate(1272.59 586.8) scale(1.0081 1)" style="font-size:30px;fill:#00f;stroke:#00f;stroke-width:0.3px;">70</text>
<path d="M1148.6,634 L1153.7,643 L1158.8,634" stroke="#000" stroke-width="1.8" fill="none" stroke-linejoin="miter"/>
<path d="M815.6,419.2 V64.2 H1412.6 V645.7 H815.6 V453.6" fill="none" stroke="#000" stroke-width="3.8" stroke-linejoin="miter"/>
<text transform="translate(804.6 449.8) skewX(-14) scale(1.24 1.9)" style="font-size:22px">≈</text>
<path d="M804.4,64.2 H815.6" stroke="#000" stroke-width="2.9"/>
<path d="M804.4,103.0 H815.6" stroke="#000" stroke-width="2.9"/>
<path d="M804.4,141.8 H815.6" stroke="#000" stroke-width="2.9"/>
<path d="M804.4,180.6 H815.6" stroke="#000" stroke-width="2.9"/>
<path d="M804.4,219.4 H815.6" stroke="#000" stroke-width="2.9"/>
<path d="M804.4,258.2 H815.6" stroke="#000" stroke-width="2.9"/>
<path d="M948.0,49.7 V64.2" stroke="#000" stroke-width="1.8"/>
<path d="M1002.5,56.3 V64.2" stroke="#000" stroke-width="1.5"/>
<path d="M1073.3,49.7 V64.2" stroke="#000" stroke-width="1.8"/>
<path d="M1158.7,56.3 V64.2" stroke="#000" stroke-width="1.5"/>
<path d="M1267.7,49.7 V64.2" stroke="#000" stroke-width="1.8"/>
<path d="M1409.1,56.3 V64.2" stroke="#000" stroke-width="1.5"/>
<text transform="translate(922.42 37) scale(0.9756 1)" style="font-size:30px;stroke:#000;stroke-width:0.3px;">300 °C</text>
<text transform="translate(1046.07 37) scale(0.9838 1)" style="font-size:30px;stroke:#000;stroke-width:0.3px;">200 °C</text>
<text transform="translate(1235.4 37) scale(0.9758 1)" style="font-size:30px;stroke:#000;stroke-width:0.3px;">100 °C</text>
<path d="M863.1,645.7 V655.5" stroke="#000" stroke-width="2.7"/>
<path d="M897.6,645.7 V655.5" stroke="#000" stroke-width="2.7"/>
<path d="M932.4,645.7 V655.5" stroke="#000" stroke-width="2.7"/>
<path d="M966.7,645.7 V655.5" stroke="#000" stroke-width="2.7"/>
<path d="M1001.5,645.7 V655.5" stroke="#000" stroke-width="2.7"/>
<path d="M1035.4,645.7 V655.5" stroke="#000" stroke-width="2.7"/>
<path d="M1070.0,645.7 V655.5" stroke="#000" stroke-width="2.7"/>
<path d="M1104.5,645.7 V655.5" stroke="#000" stroke-width="2.7"/>
<path d="M1138.7,645.7 V655.5" stroke="#000" stroke-width="2.7"/>
<path d="M1173.4,645.7 V655.5" stroke="#000" stroke-width="2.7"/>
<path d="M1208.4,645.7 V655.5" stroke="#000" stroke-width="2.7"/>
<path d="M1241.9,645.7 V655.5" stroke="#000" stroke-width="2.7"/>
<path d="M1275.0,645.7 V655.5" stroke="#000" stroke-width="2.7"/>
<path d="M1309.3,645.7 V655.5" stroke="#000" stroke-width="2.7"/>
<path d="M1343.4,645.7 V655.5" stroke="#000" stroke-width="2.7"/>
<path d="M1378.5,645.7 V655.5" stroke="#000" stroke-width="2.7"/>
<path d="M849.8,645.7 V655.5" stroke="#000" stroke-width="2.7"/>
<text transform="translate(841.14 688.6) scale(0.9621 1)" style="font-size:30px;stroke:#000;stroke-width:0.3px;">1.5</text>
<text transform="translate(1014.36 688.6) scale(0.9899 1)" style="font-size:30px;stroke:#000;stroke-width:0.3px;">2.0</text>
<text transform="translate(1187.75 688.6) scale(0.9962 1)" style="font-size:30px;stroke:#000;stroke-width:0.3px;">2.5</text>
<text transform="translate(1358.01 688.6) scale(0.9912 1)" style="font-size:30px;stroke:#000;stroke-width:0.3px;">3.0</text>
<text transform="translate(1033.83 738.2) scale(0.9662 1)" style="font-size:30px;stroke:#000;stroke-width:0.3px;">1000/T (K</text>
<text transform="translate(1161.23 725.4) scale(0.8667 1)" style="font-size:21.5px;stroke:#000;stroke-width:0.3px;">−1</text>
<text transform="translate(1185.8 738.2) scale(0.8242 1)" style="font-size:30px;stroke:#000;stroke-width:0.3px;">)</text>
<text transform="translate(759.46 74) scale(0.9890 1)" style="font-size:30px;stroke:#000;stroke-width:0.3px;">−5</text>
<text transform="translate(742.87 268) scale(0.9856 1)" style="font-size:30px;stroke:#000;stroke-width:0.3px;">−10</text>
<text transform="translate(754.13 639.8) scale(1.1103 1.1500)" style="font-size:30px;">−</text>
<text transform="translate(771.63 635.88) scale(1.0158 0.8261)" style="font-size:30px;stroke:#000;stroke-width:0.2px;">∞</text>
<text transform="translate(779.8 389.99) rotate(-90) scale(0.9732 1)" style="font-size:30px;stroke:#000;stroke-width:0.3px;">Ln r<tspan dy="8.9" style="font-size:21px">NH</tspan><tspan dy="8.6" style="font-size:15px">3</tspan></text>
<text transform="translate(869.7 182) scale(0.9776 1)" style="font-size:30px;stroke:#000;stroke-width:0.3px;">Ln r</text>
<text transform="translate(920.48 170.4) scale(1.0138 1)" style="font-size:21px;stroke:#000;stroke-width:0.3px;">M</text>
<text transform="translate(920.01 189.1) scale(0.9945 1)" style="font-size:21px;stroke:#000;stroke-width:0.3px;">NH</text>
<text transform="translate(950.2 198) scale(1.0069 1)" style="font-size:15px;stroke:#000;stroke-width:0.3px;">3</text>
<text transform="translate(1135.51 178.8) scale(0.9714 1)" style="font-size:30px;fill:#00f;stroke:#00f;stroke-width:0.3px;">Ln r</text>
<text transform="translate(1186.09 166.2) scale(1.0043 1)" style="font-size:21px;fill:#00f;stroke:#00f;stroke-width:0.3px;">E</text>
<text transform="translate(1184.95 186.5) scale(1.0312 1)" style="font-size:21px;fill:#00f;stroke:#00f;stroke-width:0.3px;">NH</text>
<text transform="translate(1215.48 194.7) scale(1.0345 1)" style="font-size:15px;fill:#00f;stroke:#00f;stroke-width:0.3px;">3</text>
<text transform="translate(1227.85 178.8) scale(1.0000 1)" style="font-size:30px;fill:#00f;stroke:#00f;stroke-width:0.3px;">=</text>
<text transform="translate(1251.64 178.8) scale(1.0867 1)" style="font-size:30px;fill:#00f;stroke:#00f;stroke-width:0.3px;">−</text>
<text transform="translate(1292.1 164.7) scale(0.9333 1)" style="font-size:30px;fill:#00f;stroke:#00f;stroke-width:0.3px;">E</text>
<path d="M1277.4,170.6 H1325.8" stroke="#00f" stroke-width="2.1"/>
<text transform="translate(1281.93 196.9) scale(1.0068 1)" style="font-size:30px;fill:#00f;stroke:#00f;stroke-width:0.3px;">RT</text>
<text transform="translate(1333.99 178.8) scale(0.9667 1)" style="font-size:30px;fill:#00f;stroke:#00f;stroke-width:0.3px;">+</text>
<text transform="translate(1359.1 180.3) scale(0.9350 1)" style="font-size:30px;fill:#00f;stroke:#00f;stroke-width:0.3px;">A</text>
<g filter="url(#h30)"><text transform="translate(1093.61 299.9) scale(0.9723 1)" style="font-size:30px;stroke:#000;stroke-width:0.3px;">NH<tspan dy="8" style="font-size:22px">3</tspan><tspan dy="-8"> formation rate</tspan></text></g>
<g filter="url(#h30)"><text transform="translate(1125.9 334.8) scale(0.9700 1)" style="font-size:30px;stroke:#000;stroke-width:0.3px;">(µmol g<tspan dy="-11" style="font-size:21px">−1</tspan><tspan dy="11"> h</tspan><tspan dy="-11" style="font-size:21px">−1</tspan><tspan dy="11">)</tspan></text></g>
</g>
</svg></body></html>
